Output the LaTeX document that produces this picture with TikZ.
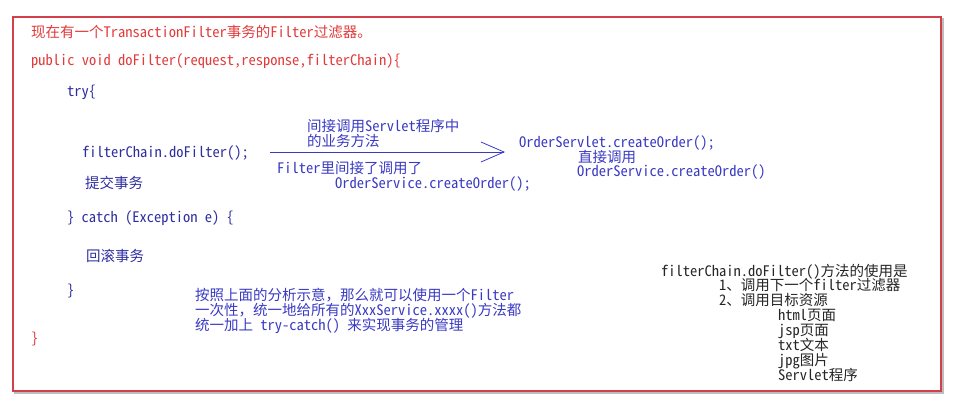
\documentclass[tikz,border=0pt]{standalone}
\usepackage{fontspec}
\setmainfont{Noto Sans Mono CJK SC}
\usetikzlibrary{arrows.meta,positioning}
\definecolor{framered}{HTML}{D2414B}
\definecolor{codered}{HTML}{E23B3B}
\definecolor{codeblue}{HTML}{2E2EA0}
\definecolor{noteblue}{HTML}{3A3AC4}
\definecolor{shadowgray}{HTML}{BDBDBD}

\begin{document}
\begin{tikzpicture}[x=1pt,y=-1pt,
  txt/.style={inner sep=0pt,anchor=base west,font=\fontsize{14.5}{14.9}\selectfont},
  redtxt/.style={txt,text=codered},
  codetxt/.style={txt,text=codeblue},
  notetxt/.style={txt,text=noteblue},
  blacktxt/.style={txt,text=black!85},
  arr/.style={-{Straight Barb[length=23pt,width=20pt]},line width=0.8pt,draw=noteblue}
]
\useasboundingbox (0,0) rectangle (954,402);
% frame with shadow
\draw[shadowgray,line width=1.5pt] (15,19) rectangle (943,393);
\draw[framered,line width=1.3pt,fill=white] (13,17) rectangle (941,391);

% code
\node[redtxt] (title) at (31,37) {现在有一个TransactionFilter事务的Filter过滤器。};
\node[redtxt] (dofilter) at (31,65) {public void doFilter(request,response,filterChain)\{};
\node[codetxt] (try) at (67,96) {try\{};
\node[codetxt] (chain) at (82,157) {filterChain.doFilter();};
\node[codetxt] (commit) at (85,188) {提交事务};
\node[codetxt] (catch) at (67,222) {\} catch (Exception e) \{};
\node[codetxt] (rollback) at (86,261) {回滚事务};
\node[codetxt] (tryend) at (67,295) {\}};
\node[redtxt] (methodend) at (31,343) {\}};

% arrow and its notes
\coordinate (arrtail) at (270,152);
\coordinate (arrhead) at (505,152);
\draw[arr] (arrtail) -- (arrhead);
\node[notetxt] (ind1) at (307,131) {间接调用Servlet程序中};
\node[notetxt] (ind2) at (307,146) {的业务方法};
\node[notetxt] (filt1) at (277,173) {Filter里间接了调用了};
\node[notetxt] (filt2) at (335,188) {OrderService.createOrder();};
\node[notetxt] (servlet) at (519,147) {OrderServlet.createOrder();};
\node[notetxt] (direct) at (578,162) {直接调用};
\node[notetxt] (service) at (577,176) {OrderService.createOrder()};

% summary
\node[notetxt] (sum1) at (195,300) {按照上面的分析示意，那么就可以使用一个Filter};
\node[notetxt] (sum2) at (195,315) {一次性，统一地给所有的XxxService.xxxx()方法都};
\node[notetxt] (sum3) at (195,330) {统一加上 try-catch() 来实现事务的管理};

% usage of doFilter
\node[blacktxt] (use) at (661,276) {filterChain.doFilter()方法的使用是};
\node[blacktxt] (use1) at (719,290.9) {1、调用下一个filter过滤器};
\node[blacktxt] (use2) at (719,305.8) {2、调用目标资源};
\foreach \res [count=\i] in {html页面,jsp页面,txt文本,jpg图片,Servlet程序}
  \node[blacktxt] (res\i) at (778,{305.8+14.9*\i}) {\res};
\end{tikzpicture}
\end{document}
